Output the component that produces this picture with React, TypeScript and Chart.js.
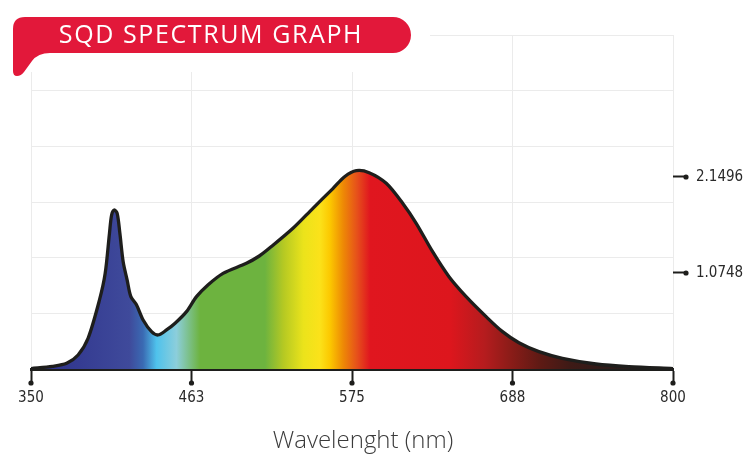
import React, { useEffect, useRef } from 'react';
import { Chart, registerables } from 'chart.js';

Chart.register(...registerables);

// Spectral power distribution (nm → relative intensity)
const WAVELENGTHS = [
  350, 365, 375, 383, 390, 398, 402, 405, 406.5, 408.3, 410.4, 412.3, 414.6, 417.4, 420,
  424, 428.6, 434.5, 439, 445, 451, 459, 466, 474, 484.6, 501, 510, 517, 533.6, 547.6,
  561.6, 570, 578, 587, 599, 610.5, 620, 631.5, 643, 655, 669, 680.5, 692, 706, 722.5,
  746, 769, 800,
];
const INTENSITY = [
  0.005, 0.03, 0.064, 0.157, 0.344, 0.773, 1.071, 1.519, 1.724, 1.78, 1.743, 1.519, 1.201,
  0.996, 0.81, 0.717, 0.549, 0.418, 0.381, 0.437, 0.512, 0.642, 0.81, 0.941, 1.071, 1.183,
  1.265, 1.351, 1.575, 1.799, 2.02, 2.155, 2.22, 2.198, 2.079, 1.855, 1.631, 1.313, 1.033,
  0.81, 0.586, 0.418, 0.294, 0.194, 0.12, 0.056, 0.026, 0.005,
];

// Axis ticks
const X_TICKS = [350, 462.5, 575, 687.5, 800];
const X_TICK_LABELS = ['350', '463', '575', '688', '800'];
const Y_TICKS = [1.0748, 2.1496];
const Y_TICK_LABELS = ['1.0748', '2.1496'];

const TITLE = 'SQD SPECTRUM GRAPH';
const X_TITLE = 'Wavelenght (nm)';

// Styling
const Y_MAX = 3.739;
const INK = '#1e1e1c';
const GRID = '#ebebeb';
const BADGE_RED = '#e2183a';
const TICK_FONT = "'Liberation Sans Narrow', 'DejaVu Sans Condensed', sans-serif";
const TEXT_FONT = "'Open Sans', 'DejaVu Sans', sans-serif";

// Visible-spectrum colour ramp used to fill the curve
const RAMP_NM = [350, 384, 419, 428.5, 438, 452, 468.5, 514, 527, 541, 552.5, 559.6, 568.7, 578.5, 587.6, 643.7, 668, 685.7, 706.8, 727.8, 762.8, 800];
const RAMP_COLORS = [
  '#2b2f86', '#353c92', '#3f4a9b', '#3a6ab3', '#4fc2ec', '#8ccedb', '#6db33f', '#6db33f',
  '#b5c923', '#ebe31b', '#fbe21a', '#fcc800', '#ee8a05', '#e6501b', '#e0161f', '#dd161d',
  '#b51c1e', '#8c1c18', '#5e1a14', '#3e1a16', '#2a1c1a', '#231f20',
];

const decorPlugin = {
  id: 'decor',
  afterDraw(chart: any) {
    const ctx = chart.ctx as CanvasRenderingContext2D;
    const xs = chart.scales.x;
    const y2 = chart.scales.y2;
    const bottom = chart.chartArea.bottom;
    const right = chart.chartArea.right;
    ctx.save();
    ctx.fillStyle = INK;
    // end dots of the tick marks
    xs.ticks.forEach((_t: any, i: number) => {
      const px = xs.getPixelForTick(i);
      ctx.beginPath();
      ctx.arc(px, bottom + 14, 2.6, 0, Math.PI * 2);
      ctx.fill();
    });
    y2.ticks.forEach((_t: any, i: number) => {
      const py = y2.getPixelForTick(i);
      ctx.beginPath();
      ctx.arc(right + 13, py, 2.6, 0, Math.PI * 2);
      ctx.fill();
    });

    // header badge
    ctx.fillStyle = '#ffffff';
    ctx.fillRect(0, 0, 430, 72);
    ctx.fillStyle = BADGE_RED;
    ctx.beginPath();
    ctx.moveTo(25, 17);
    ctx.lineTo(393, 17);
    ctx.arc(393, 35, 18, -Math.PI / 2, Math.PI / 2);
    ctx.lineTo(50, 53);
    ctx.quadraticCurveTo(38, 53, 32, 61);
    ctx.lineTo(24, 72);
    ctx.quadraticCurveTo(21, 76, 17, 76);
    ctx.quadraticCurveTo(13, 76, 13, 71);
    ctx.lineTo(13, 29);
    ctx.quadraticCurveTo(13, 17, 25, 17);
    ctx.closePath();
    ctx.fill();

    ctx.fillStyle = '#ffffff';
    ctx.font = `400 25px ${TEXT_FONT}`;
    (ctx as any).letterSpacing = '1.6px';
    ctx.textAlign = 'center';
    ctx.textBaseline = 'middle';
    ctx.fillText(TITLE, 211, 35.5);
    (ctx as any).letterSpacing = '0px';

    // axis title
    ctx.fillStyle = '#3a3a3a';
    ctx.font = `300 24px ${TEXT_FONT}`;
    ctx.fillText(X_TITLE, 363, 441);
    ctx.restore();
  },
};

export default function App() {
  const canvasRef = useRef<HTMLCanvasElement | null>(null);

  useEffect(() => {
    const canvas = canvasRef.current;
    if (!canvas) return;

    const spectrumFill = (c: any) => {
      const chart = c.chart;
      const area = chart.chartArea;
      if (!area) return RAMP_COLORS[0];
      const xs = chart.scales.x;
      const x0 = xs.getPixelForValue(350);
      const x1 = xs.getPixelForValue(800);
      const g = chart.ctx.createLinearGradient(x0, 0, x1, 0);
      RAMP_NM.forEach((nm, i) => g.addColorStop((nm - 350) / 450, RAMP_COLORS[i]));
      return g;
    };

    const chart = new Chart(canvas, {
      type: 'line',
      data: {
        datasets: [
          {
            data: WAVELENGTHS.map((x, i) => ({ x, y: INTENSITY[i] })),
            borderColor: INK,
            borderWidth: 3.3,
            backgroundColor: spectrumFill,
            fill: 'origin',
            pointRadius: 0,
            tension: 0.3,
            yAxisID: 'y',
          },
        ],
      },
      options: {
        animation: false,
        responsive: false,
        devicePixelRatio: 1,
        layout: { padding: { left: 31, top: 35, right: 0, bottom: 0 } },
        plugins: { legend: { display: false }, tooltip: { enabled: false } },
        scales: {
          x: {
            type: 'linear',
            min: 350,
            max: 800,
            afterBuildTicks: (s: any) => {
              s.ticks = X_TICKS.map((v) => ({ value: v }));
            },
            afterFit: (s: any) => {
              s.height = 101;
            },
            ticks: {
              autoSkip: false,
              maxRotation: 0,
              padding: 6,
              color: '#2a2a2a',
              font: { family: TICK_FONT, size: 15 },
              callback: (_v: any, i: number) => X_TICK_LABELS[i],
            },
            grid: { color: GRID, lineWidth: 1, tickColor: INK, tickLength: 14, tickWidth: 2 },
            border: { display: true, color: INK, width: 3 },
          },
          y: {
            position: 'left',
            min: 0,
            max: Y_MAX,
            afterBuildTicks: (s: any) => {
              s.ticks = [0, 1, 2, 3, 4, 5, 6].map((k) => ({ value: (Y_MAX * k) / 6 }));
            },
            afterFit: (s: any) => {
              s.width = 0;
            },
            ticks: { display: false },
            grid: { color: GRID, lineWidth: 1, drawTicks: false },
            border: { display: false },
          },
          y2: {
            position: 'right',
            min: 0,
            max: Y_MAX,
            afterBuildTicks: (s: any) => {
              s.ticks = Y_TICKS.map((v) => ({ value: v }));
            },
            afterFit: (s: any) => {
              s.width = 73;
            },
            ticks: {
              padding: 10,
              color: '#2a2a2a',
              font: { family: TICK_FONT, size: 15 },
              callback: (_v: any, i: number) => Y_TICK_LABELS[i],
            },
            grid: { drawOnChartArea: false, tickColor: INK, tickLength: 13, tickWidth: 2 },
            border: { display: false },
          },
        },
      },
      plugins: [decorPlugin],
    } as any);

    return () => chart.destroy();
  }, []);

  return (
    <div style={{ position: 'fixed', left: 0, top: 0, width: 746, height: 470, background: '#ffffff' }}>
      <canvas ref={canvasRef} width={746} height={470} style={{ display: 'block' }} />
    </div>
  );
}
